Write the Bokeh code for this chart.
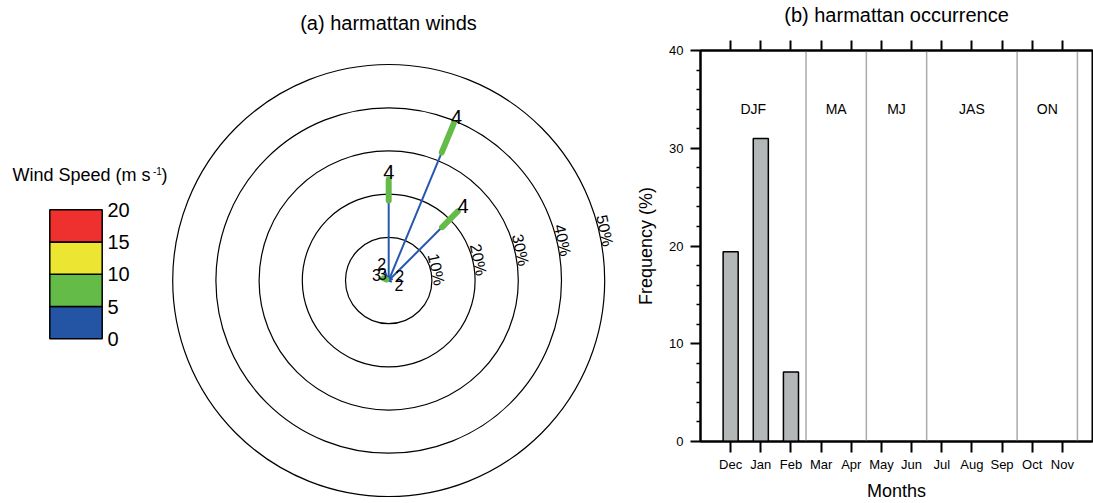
import math

from bokeh.core.properties import value
from bokeh.embed import file_html
from bokeh.layouts import row
from bokeh.models import FixedTicker, LinearAxis, Range1d
from bokeh.plotting import figure
from bokeh.resources import INLINE

FONT = "Liberation Sans"

# ---------------- wind rose data ----------------
ring_pct = [10, 20, 30, 40, 50]
ring_labels = ["10%", "20%", "30%", "40%", "50%"]

ray_bearing = [0.0, 22.5, 45.0, 67.5, 112.5, 292.5, 315.0, 337.5]
ray_pct_0_5 = [18.5, 32.1, 17.5, 1.0, 0.8, 0.6, 0.3, 2.5]    # cumulative %, 0-5 m/s
ray_pct_5_10 = [23.4, 39.3, 22.6, 1.0, 0.8, 1.3, 0.3, 2.5]   # cumulative %, up to 10 m/s
ray_labels = ["4", "4", "4", "2", "2", "3", "3", "2"]
ray_label_size = ["20px", "20px", "20px", "16px", "16px", "16px", "16px", "16px"]

speed_levels = [0, 5, 10, 15, 20]
speed_colors = ["#2455A4", "#64BB48", "#ECE632", "#EE302E"]

# ---------------- occurrence data ----------------
months = ["Dec", "Jan", "Feb", "Mar", "Apr", "May",
          "Jun", "Jul", "Aug", "Sep", "Oct", "Nov"]
occurrence = [19.4, 31.0, 7.1, 0, 0, 0, 0, 0, 0, 0, 0, 0]
season_names = ["DJF", "MA", "MJ", "JAS", "ON"]
season_bounds = [-1.0, 2.5, 4.5, 6.5, 9.5, 11.5]
freq_ticks = [0, 10, 20, 30, 40]

# ================= (a) wind rose =================
W_A, H_A = 630, 503
PX = 4.32                 # pixels per percent
CX, CY = 388.2, 280.0     # rose centre on the canvas


def ux(px):
    return (px - CX) / PX


def uy(py):
    return (CY - py) / PX


pa = figure(width=W_A, height=H_A, output_backend="svg", toolbar_location=None,
            x_range=Range1d(ux(0), ux(W_A)), y_range=Range1d(uy(H_A), uy(0)),
            x_axis_type=None, y_axis_type=None,
            min_border=0, min_border_left=0, min_border_right=0,
            min_border_top=0, min_border_bottom=0)
pa.frame_align = False
pa.grid.visible = False
pa.outline_line_color = None
pa.background_fill_color = "white"

# range rings
pa.circle(x=[0] * len(ring_pct), y=[0] * len(ring_pct), radius=ring_pct,
          fill_color=None, line_color="black", line_width=1.2)

lab_bearing = math.radians(77)
pa.text(x=[(r + 1.3) * math.sin(lab_bearing) for r in ring_pct],
        y=[(r + 1.3) * math.cos(lab_bearing) for r in ring_pct],
        text=ring_labels, angle=-math.radians(78),
        text_font=value(FONT), text_font_size="16px", text_color="black",
        text_align="center", text_baseline="middle")

# rays: 0-5 m/s part, then 5-10 m/s part
bx0, by0, bx1, by1 = [], [], [], []
gx0, gy0, gx1, gy1 = [], [], [], []
lx, ly = [], []
for b, p1, p2 in zip(ray_bearing, ray_pct_0_5, ray_pct_5_10):
    t = math.radians(b)
    s, c = math.sin(t), math.cos(t)
    bx0.append(0.0); by0.append(0.0)
    bx1.append(p1 * s); by1.append(p1 * c)
    if p2 > p1:
        gx0.append(p1 * s); gy0.append(p1 * c)
        gx1.append(p2 * s); gy1.append(p2 * c)
    rl = max(p1, p2) + 1.75
    lx.append(rl * s); ly.append(rl * c)

pa.segment(x0=bx0, y0=by0, x1=bx1, y1=by1, line_color="#2758AE", line_width=2)
pa.segment(x0=gx0, y0=gy0, x1=gx1, y1=gy1, line_color=speed_colors[1],
           line_width=6, line_cap="round")
pa.text(x=lx, y=ly, text=ray_labels, text_font=value(FONT),
        text_font_size=ray_label_size, text_color="black",
        text_align="center", text_baseline="middle")

pa.text(x=[ux(388)], y=[uy(22)], text=["(a) harmattan winds"],
        text_font=value(FONT), text_font_size="20px", text_color="black",
        text_align="center", text_baseline="middle")

# colour bar legend
LEG_L, LEG_R = 49.3, 101.7
LEG_Y0, LEG_DY = 338.3, 6.45   # canvas y of level 0, pixels per m/s
pa.quad(left=[ux(LEG_L)] * 4, right=[ux(LEG_R)] * 4,
        bottom=[uy(LEG_Y0 - v * LEG_DY) for v in speed_levels[:-1]],
        top=[uy(LEG_Y0 - v * LEG_DY) for v in speed_levels[1:]],
        fill_color=speed_colors, line_color="black", line_width=1.5)
pa.text(x=[ux(107)] * len(speed_levels),
        y=[uy(LEG_Y0 - v * LEG_DY) for v in speed_levels],
        text=[str(v) for v in speed_levels], text_font=value(FONT),
        text_font_size="20px", text_color="black",
        text_align="left", text_baseline="middle")

pa.text(x=[ux(12)], y=[uy(174)], text=["Wind Speed (m s"], text_font=value(FONT),
        text_font_size="18px", text_color="black",
        text_align="left", text_baseline="middle")
pa.text(x=[ux(152.5)], y=[uy(170)], text=["-1"], text_font=value(FONT),
        text_font_size="10px", text_color="black",
        text_align="left", text_baseline="middle")
pa.text(x=[ux(161)], y=[uy(174)], text=[")"], text_font=value(FONT),
        text_font_size="18px", text_color="black",
        text_align="left", text_baseline="middle")

# ================= (b) occurrence bars =================
pb = figure(width=463, height=503, output_backend="svg", toolbar_location=None,
            x_range=Range1d(-1, 12), y_range=Range1d(0, 40),
            x_axis_type=None, y_axis_type=None,
            min_border_left=70, min_border_right=1,
            min_border_top=50, min_border_bottom=62)
pb.frame_align = False
pb.grid.visible = False
pb.outline_line_color = "black"
pb.outline_line_width = 2

month_ticks = list(range(len(months)))
minor = [v for v in range(0, 41, 2) if v % 10]

yax = LinearAxis(ticker=FixedTicker(ticks=freq_ticks, minor_ticks=minor),
                 axis_label="Frequency (%)")
xax = LinearAxis(ticker=FixedTicker(ticks=month_ticks, minor_ticks=[]),
                 major_label_overrides={i: m for i, m in enumerate(months)},
                 axis_label="Months")
# top axis carries the panel title as its label
tax = LinearAxis(ticker=FixedTicker(ticks=month_ticks, minor_ticks=[]),
                 major_label_overrides={i: "" for i in month_ticks},
                 axis_label="(b) harmattan occurrence")

for ax in (yax, xax, tax):
    ax.axis_line_width = 2
    ax.axis_line_color = "black"
    ax.major_tick_line_width = 2
    ax.major_tick_line_color = "black"
    ax.major_tick_in = 0
    ax.minor_tick_in = 0
    ax.major_label_text_font = FONT
    ax.major_label_text_font_size = "13px"
    ax.major_label_text_color = "black"
    ax.axis_label_text_font = FONT
    ax.axis_label_text_font_size = "18px"
    ax.axis_label_text_font_style = "normal"
    ax.axis_label_text_color = "black"

yax.major_tick_out = 10
yax.minor_tick_out = 4
yax.minor_tick_line_width = 1.5
yax.minor_tick_line_color = "black"
yax.major_label_standoff = 7
yax.axis_label_standoff = 10

xax.major_tick_out = 11
xax.minor_tick_out = 0
xax.major_label_standoff = 4
xax.axis_label_standoff = 6

tax.major_tick_out = 10
tax.minor_tick_out = 0
tax.major_label_standoff = 0
tax.major_label_text_font_size = "1px"
tax.axis_label_text_font_size = "20px"
tax.axis_label_standoff = 15

pb.add_layout(yax, "left")
pb.add_layout(xax, "below")
pb.add_layout(tax, "above")

# season separators and names
seps = season_bounds[1:]
pb.segment(x0=seps, y0=[0] * len(seps), x1=seps, y1=[40] * len(seps),
           line_color="#A8ACAC", line_width=1.5)
mids = [(a + b) / 2 for a, b in zip(season_bounds[:-1], season_bounds[1:])]
pb.text(x=mids, y=[34] * len(mids), text=season_names, text_font=value(FONT),
        text_font_size="14px", text_color="black",
        text_align="center", text_baseline="middle")

bar_x = [i for i, v in enumerate(occurrence) if v > 0]
bar_top = [v for v in occurrence if v > 0]
pb.vbar(x=bar_x, top=bar_top, bottom=0, width=0.5,
        fill_color="#B3B7B7", line_color="black", line_width=1.5)

layout = row(pa, pb, spacing=0)
open("out.html", "w").write(file_html(layout, INLINE))
